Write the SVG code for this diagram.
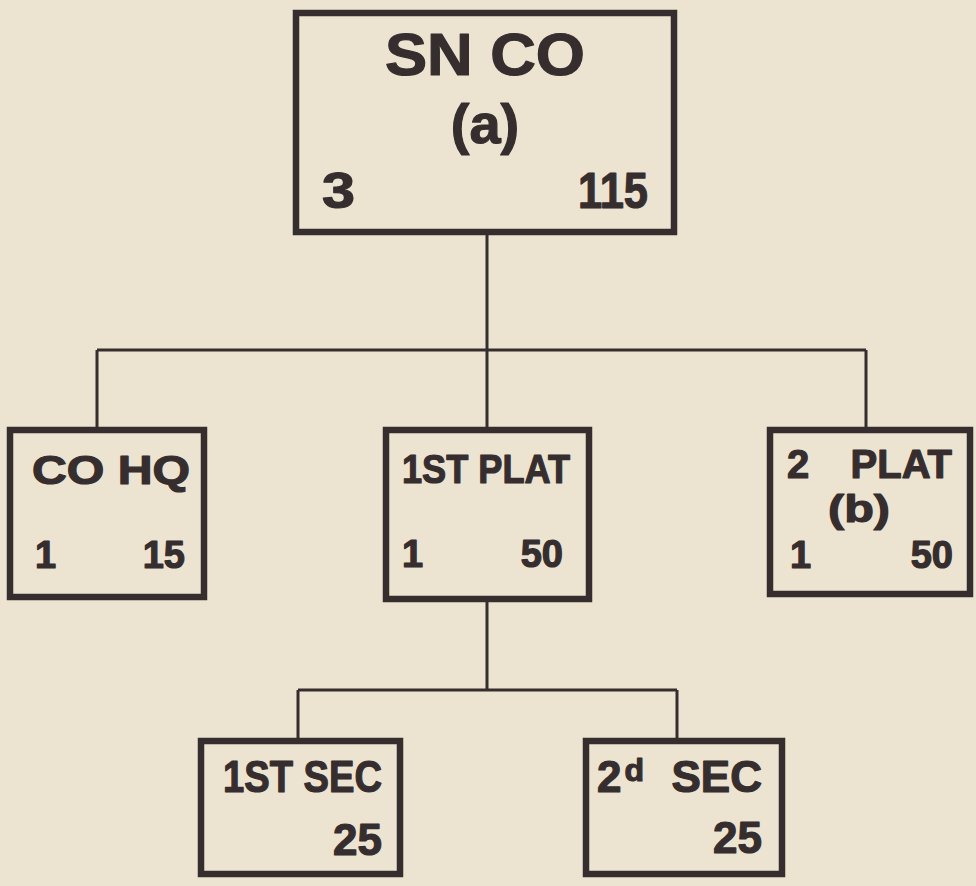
<svg xmlns="http://www.w3.org/2000/svg" width="976" height="886" viewBox="0 0 976 886">
<style>
.box{fill:none;stroke:#362e2e;stroke-width:6.5;stroke-linejoin:miter}
.ln{fill:none;stroke:#362e2e;stroke-width:3}
text{font-family:"Liberation Sans","Arial",sans-serif;font-weight:bold;fill:#362e2e;stroke:#362e2e;stroke-width:1.2;stroke-linejoin:round}
</style>
<rect x="0" y="0" width="976" height="886" fill="#ece4d1"/>
<g id="connectors">
<path class="ln" d="M487 235 V350 M97 350 H866 M97 350 V427 M487 350 V427 M866 350 V427"/>
<path class="ln" d="M487 602 V690 M298 690 H677 M298 690 V738 M677 690 V738"/>
</g>
<g id="sn-co">
<rect class="box" x="296" y="13" width="378" height="219"/>
<text x="485" y="75" font-size="60" text-anchor="middle" textLength="200" lengthAdjust="spacingAndGlyphs">SN CO</text>
<text x="485" y="143" font-size="56" text-anchor="middle">(a)</text>
<text x="322" y="208" font-size="50" textLength="33" lengthAdjust="spacingAndGlyphs">3</text>
<text x="578" y="208" font-size="50" textLength="70" lengthAdjust="spacingAndGlyphs">115</text>
</g>
<g id="co-hq">
<rect class="box" x="10" y="430" width="194" height="167"/>
<text x="32" y="484" font-size="40" textLength="158" lengthAdjust="spacingAndGlyphs">CO HQ</text>
<text x="35" y="568" font-size="38">1</text>
<text x="185" y="568" font-size="38" text-anchor="end">15</text>
</g>
<g id="first-plat">
<rect class="box" x="386" y="430" width="203" height="169"/>
<text x="402" y="483" font-size="41" textLength="168" lengthAdjust="spacingAndGlyphs">1ST PLAT</text>
<text x="402" y="567" font-size="38">1</text>
<text x="563" y="567" font-size="38" text-anchor="end">50</text>
</g>
<g id="second-plat">
<rect class="box" x="770" y="430" width="200" height="164"/>
<text x="787" y="478" font-size="40">2</text>
<text x="952" y="478" font-size="40" text-anchor="end">PLAT</text>
<text x="859" y="522" font-size="39" text-anchor="middle" textLength="62" lengthAdjust="spacingAndGlyphs">(b)</text>
<text x="790" y="568" font-size="38">1</text>
<text x="953" y="568" font-size="38" text-anchor="end">50</text>
</g>
<g id="first-sec">
<rect class="box" x="201" y="741" width="199" height="133"/>
<text x="223" y="792" font-size="44" textLength="159" lengthAdjust="spacingAndGlyphs">1ST SEC</text>
<text x="382" y="855" font-size="44" text-anchor="end">25</text>
</g>
<g id="second-sec">
<rect class="box" x="586" y="741" width="196" height="133"/>
<text x="597" y="792" font-size="44">2<tspan font-size="32" dx="3" dy="-11">d</tspan></text>
<text x="762" y="792" font-size="44" text-anchor="end">SEC</text>
<text x="762" y="853" font-size="44" text-anchor="end">25</text>
</g>
</svg>
